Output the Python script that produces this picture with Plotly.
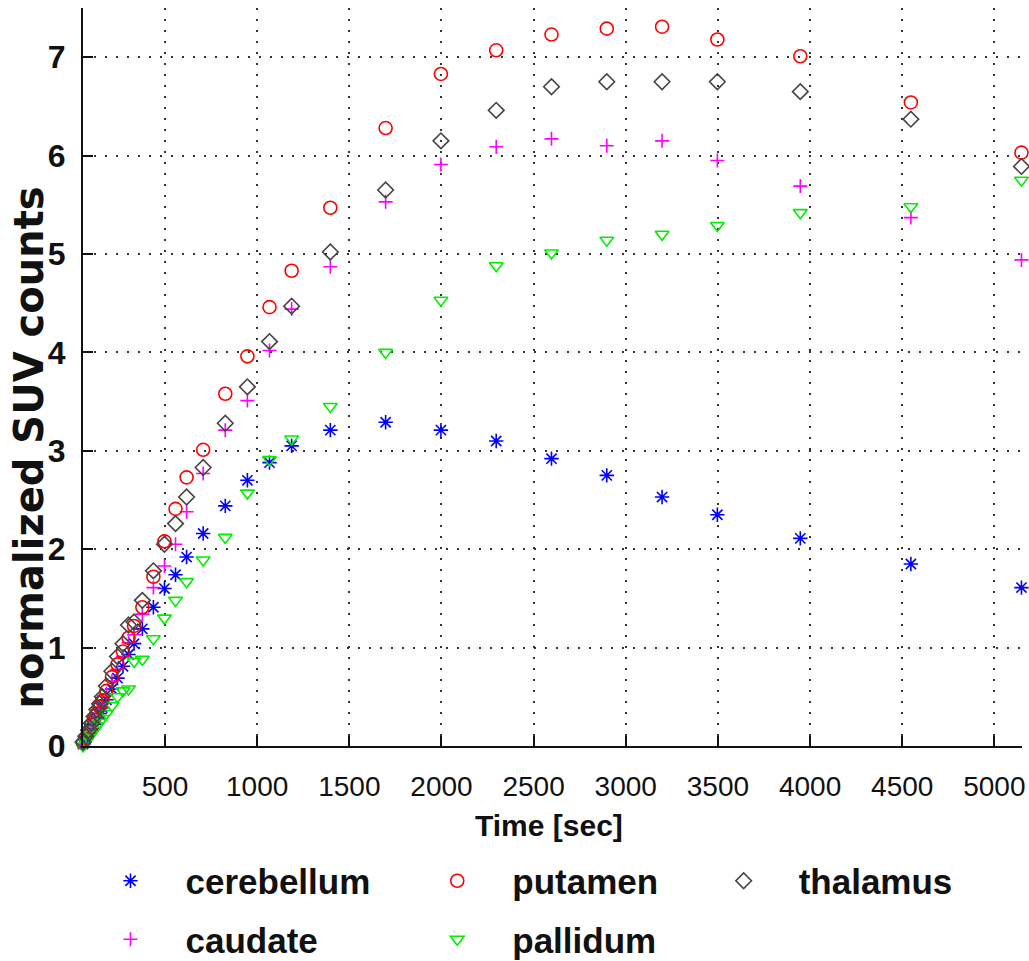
import plotly.graph_objects as go

# ---- data ----
time_sec = [55, 70, 85, 100, 115, 130, 145, 160, 182, 212, 242, 272, 302, 332, 377,
            437, 497, 557, 617, 707, 827, 947, 1067, 1187, 1397, 1697, 1997, 2297,
            2597, 2897, 3197, 3497, 3947, 4547, 5147]

cerebellum = [0.02, 0.07, 0.12, 0.17, 0.22, 0.28, 0.33, 0.39, 0.47, 0.58, 0.69, 0.81, 0.93, 1.04, 1.19,
              1.41, 1.60, 1.74, 1.92, 2.16, 2.44, 2.70, 2.88, 3.05, 3.21, 3.29, 3.21, 3.10,
              2.92, 2.75, 2.53, 2.35, 2.11, 1.85, 1.61]

caudate = [0.02, 0.08, 0.13, 0.19, 0.25, 0.31, 0.38, 0.44, 0.53, 0.66, 0.78, 0.91, 1.05, 1.13, 1.34,
           1.61, 1.83, 2.05, 2.38, 2.77, 3.21, 3.51, 4.02, 4.44, 4.87, 5.53, 5.91, 6.09,
           6.17, 6.10, 6.15, 5.95, 5.69, 5.37, 4.94]

putamen = [0.03, 0.08, 0.14, 0.21, 0.27, 0.33, 0.40, 0.46, 0.56, 0.70, 0.83, 0.96, 1.10, 1.22, 1.41,
           1.72, 2.08, 2.41, 2.73, 3.01, 3.58, 3.96, 4.46, 4.83, 5.47, 6.28, 6.83, 7.07,
           7.23, 7.29, 7.31, 7.18, 7.01, 6.54, 6.03]

pallidum = [0.00, 0.04, 0.08, 0.12, 0.16, 0.20, 0.24, 0.28, 0.33, 0.41, 0.50, 0.56, 0.58, 0.86, 0.88,
            1.09, 1.30, 1.48, 1.67, 1.89, 2.12, 2.57, 2.91, 3.12, 3.45, 4.00, 4.53, 4.88,
            5.01, 5.14, 5.20, 5.29, 5.42, 5.48, 5.75]

thalamus = [0.04, 0.10, 0.16, 0.23, 0.30, 0.37, 0.43, 0.50, 0.61, 0.76, 0.91, 1.04, 1.23, 1.26, 1.48,
            1.78, 2.05, 2.26, 2.53, 2.83, 3.28, 3.65, 4.11, 4.47, 5.02, 5.65, 6.15, 6.46,
            6.70, 6.75, 6.75, 6.75, 6.65, 6.37, 5.89]

x_ticks = [500, 1000, 1500, 2000, 2500, 3000, 3500, 4000, 4500, 5000]
y_ticks = [0, 1, 2, 3, 4, 5, 6, 7]

# ---- figure ----
series = [
    ("cerebellum", cerebellum, "asterisk-open", "#0000FF", 12, "legend"),
    ("caudate", caudate, "cross-thin-open", "#FF00FF", 10, "legend"),
    ("putamen", putamen, "circle-open", "#FF0000", 13, "legend2"),
    ("pallidum", pallidum, "triangle-down-open", "#00EE00", 12, "legend2"),
    ("thalamus", thalamus, "diamond-open", "#444444", 12, "legend3"),
]

fig = go.Figure()
for name, vals, sym, col, size, leg in series:
    fig.add_trace(go.Scatter(
        x=time_sec, y=vals, mode="markers", name=name,
        marker=dict(symbol=sym, size=size, color=col, line=dict(color=col, width=1.6)),
        cliponaxis=False, legend=leg, legendgroup=name,
    ))

axis_common = dict(
    showline=True, linecolor="#111111", linewidth=2, mirror=False,
    ticks="inside", ticklen=10, tickwidth=2, tickcolor="#111111",
    showgrid=True, gridcolor="#333333", gridwidth=1.5, griddash="2px,9px",
    zeroline=False, automargin=False,
)

fig.update_xaxes(range=[55, 5150], tickvals=x_ticks, ticklabelstandoff=14,
                 tickfont=dict(family="Liberation Sans Narrow, Liberation Sans, Arial", size=28, color="#111111"),
                 **axis_common)
fig.update_yaxes(range=[0, 7.5], tickvals=y_ticks, ticklabelstandoff=9,
                 tickfont=dict(family="Liberation Sans, Arial", size=32, color="#111111", weight="bold"),
                 **axis_common)

leg_font = dict(family="Liberation Sans, Arial", size=35, color="#111111", weight="bold")
leg_common = dict(orientation="v", xanchor="left", yanchor="top", y=-0.143,
                  font=leg_font, itemwidth=100, tracegroupgap=10,
                  bgcolor="rgba(0,0,0,0)", borderwidth=0)

fig.update_layout(
    width=1029, height=961,
    margin=dict(l=83, r=7, t=8, b=215, autoexpand=False),
    paper_bgcolor="white", plot_bgcolor="white",
    showlegend=True,
    legend=dict(x=-0.008, **leg_common),
    legend2=dict(x=0.340, **leg_common),
    legend3=dict(x=0.645, **leg_common),
    annotations=[
        dict(text="Time [sec]", xref="paper", yref="paper", x=0.496, y=-0.108,
             xanchor="center", yanchor="middle", showarrow=False,
             font=dict(family="Liberation Sans, Arial", size=30, color="#111111", weight="bold")),
        dict(text="normalized SUV counts", xref="paper", yref="paper", x=-0.058, y=0.404,
             xanchor="center", yanchor="middle", showarrow=False, textangle=-90,
             font=dict(family="DejaVu Sans, Liberation Sans", size=40, color="#111111", weight="bold")),
    ],
)

fig.write_html("out.html")
